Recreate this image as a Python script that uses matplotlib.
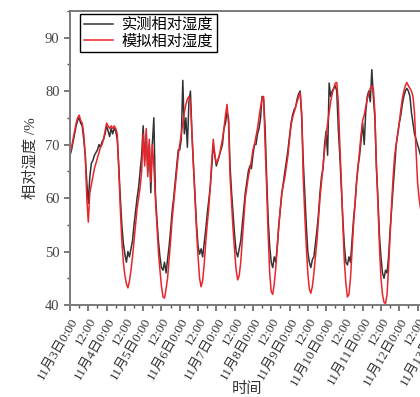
import numpy as np
import matplotlib
matplotlib.use("Agg")
import matplotlib.pyplot as plt
import matplotlib.transforms as mtransforms
from matplotlib.ticker import MultipleLocator

plt.rcParams['font.family'] = ['Liberation Serif', 'Noto Sans CJK SC', 'DejaVu Sans']

# 实测 / 模拟 相对湿度, 每小时一个点 (11月3日0:00 起)
shice = [
    68, 69, 70.5, 72, 73.5, 74.5, 75, 74, 73.5, 71, 68, 63, 59, 64, 66.5, 67, 68, 68.5, 69, 70, 69.5, 70.5, 71, 72,
    73.5, 72.5, 71.5, 73, 72, 73, 72.5, 71, 66, 60, 55, 51.5, 49.5, 48, 50, 49, 50.5, 52, 55, 57.5, 60, 62, 65, 68,
    73.5, 67, 72, 65, 70, 61, 70, 75, 61, 56, 52, 49, 47, 46.5, 48, 46, 48.5, 51, 54, 57.5, 60, 63, 66, 69,
    69, 71, 82, 72, 75, 69.5, 78, 80, 72, 66, 60.5, 55, 51, 49.5, 50.5, 49, 51.5, 54, 57, 59.5, 62, 66, 70, 68,
    66, 67, 68, 69, 70, 73, 74, 76, 75, 66, 61, 57, 53, 50, 49, 50.5, 52, 55, 58, 61, 63, 65, 66, 65.5,
    68, 70, 70, 72, 73, 75, 79, 78.5, 73, 64, 56, 51, 48, 47, 49, 48, 51, 55, 58, 61, 63, 65, 67, 69,
    71.5, 74, 75.5, 76.5, 77, 78.5, 79.5, 80, 75, 67, 61, 55, 50, 48, 47, 48.5, 49, 51.5, 54, 57, 61, 64, 65.5, 70,
    72.5, 68, 81.5, 79, 80, 80.5, 81, 80, 73, 68, 62, 56, 51, 48, 47.5, 49, 48, 52, 56, 59, 63, 66, 68, 71,
    74, 70, 76, 79, 80, 78, 84, 79, 75, 66, 60, 53, 49, 46, 45, 46.5, 46, 49, 54, 58, 62, 66, 70, 72,
    74, 75.5, 77.5, 79, 80, 80.5, 80, 79, 76, 74, 72, 71, 70, 69, 68,
]
moni = [
    68.5, 69.5, 71, 72.5, 74, 75, 75.5, 74.5, 74, 72, 68, 60, 55.5, 61, 62.5, 64, 65.5, 66.5, 67.5, 68.5, 69.5, 70, 71, 72.5,
    74, 73.5, 73, 73.5, 73, 73.5, 73, 72, 65, 58, 52, 48, 45.5, 44, 43.2, 44.5, 46.5, 49, 52, 55, 58, 60, 62, 65,
    72, 66, 73, 64, 71, 63, 70, 66, 60, 55, 50, 46.5, 43.5, 41.5, 41.3, 43, 45, 48.5, 52, 56, 59, 62, 65, 68,
    70, 72, 74, 76, 77.5, 78.5, 79, 78, 72, 66, 60, 54, 49, 45, 43.4, 44.5, 47.5, 51.5, 55, 58, 62, 67, 71, 68,
    66.5, 67, 68, 69.5, 71, 73, 75.5, 77.5, 74, 64, 59, 54, 50, 46.5, 44.7, 45.5, 48, 52, 56, 60, 62, 64, 65.5, 67,
    69, 70, 71.5, 73, 75, 77, 78.6, 79, 70, 62, 53, 46, 42.5, 42, 44, 47, 51, 55, 58, 61, 62.5, 64, 66, 68,
    71, 73.5, 75, 76, 77, 78, 79, 79.7, 76, 64, 57, 51, 46, 43, 42.2, 43.5, 46, 49, 52, 56, 60, 63, 66, 69,
    71.5, 74, 76, 78, 79.5, 80.5, 81.5, 81.6, 78, 70, 63, 55, 48, 44, 41.5, 42, 45, 50, 55, 59, 63, 66, 69, 72,
    74.5, 75.5, 77, 78.5, 79.5, 80.5, 81, 80.5, 76, 66, 59, 51, 45, 42, 40.5, 40.3, 42, 47, 53, 59, 64, 68, 70, 72,
    74, 76.5, 78.5, 80, 81, 81.6, 81, 80.5, 80, 79, 76, 69, 63, 60, 58,
]
hours = np.arange(len(moni))

tick_labels = ['11月3日0:00', '12:00', '11月4日0:00', '12:00', '11月5日0:00', '12:00',
               '11月6日0:00', '12:00', '11月7日0:00', '12:00', '11月8日0:00', '12:00',
               '11月9日0:00', '12:00', '11月10日0:00', '12:00', '11月11日0:00', '12:00',
               '11月12日0:00', '12:00', '11月13日0:00']

fig = plt.figure(figsize=(4.2, 3.97), dpi=100)
# 坐标轴右边超出画面, 与原图一样被裁掉
ax = fig.add_axes([0.1667, 0.2317, 0.871, 0.741])

ax.plot(hours, shice, color='#333333', lw=1.1, label='实测相对湿度')
ax.plot(hours, moni, color='#e8252b', lw=1.1, label='模拟相对湿度')

ax.set_xlim(0, 240)
ax.set_ylim(40, 95)
ax.set_xticks(np.arange(0, 241, 12))
ax.set_xticklabels(tick_labels, rotation=60, ha='right', va='top',
                   rotation_mode='anchor', fontsize=9.5, color='#333333')
offset = mtransforms.ScaledTranslation(5 / 100, -3 / 100, fig.dpi_scale_trans)
for lab in ax.get_xticklabels():
    lab.set_transform(lab.get_transform() + offset)
ax.xaxis.set_minor_locator(MultipleLocator(6))
ax.set_yticks([40, 50, 60, 70, 80, 90])
ax.yaxis.set_minor_locator(MultipleLocator(5))
ax.tick_params(axis='y', labelsize=10.5, labelcolor='#444444')
ax.tick_params(which='major', length=4, width=1.1, color='#555555', direction='out')
ax.tick_params(which='minor', length=2.5, width=1.0, color='#555555', direction='out')

for s in ['left', 'bottom', 'top']:
    ax.spines[s].set_color('#7a7a7a')
    ax.spines[s].set_linewidth(1.4)
ax.spines['right'].set_visible(False)

ax.set_ylabel('相对湿度 /%', fontsize=11, color='#333333')
ax.yaxis.set_label_coords(-0.087, 0.5)
ax.set_xlabel('时间', fontsize=11, color='#333333')
ax.xaxis.set_label_coords(0.484, -0.262)

leg = ax.legend(loc='upper left', bbox_to_anchor=(80 / 420, 1 - 14 / 397),
                bbox_transform=fig.transFigure, borderaxespad=0, fontsize=11,
                handlelength=1.9, handletextpad=0.6, labelspacing=0.15,
                borderpad=0.25, fancybox=False, framealpha=1)
leg.get_frame().set_edgecolor('black')
leg.get_frame().set_linewidth(1.0)

fig.savefig('out.png', dpi=100)
